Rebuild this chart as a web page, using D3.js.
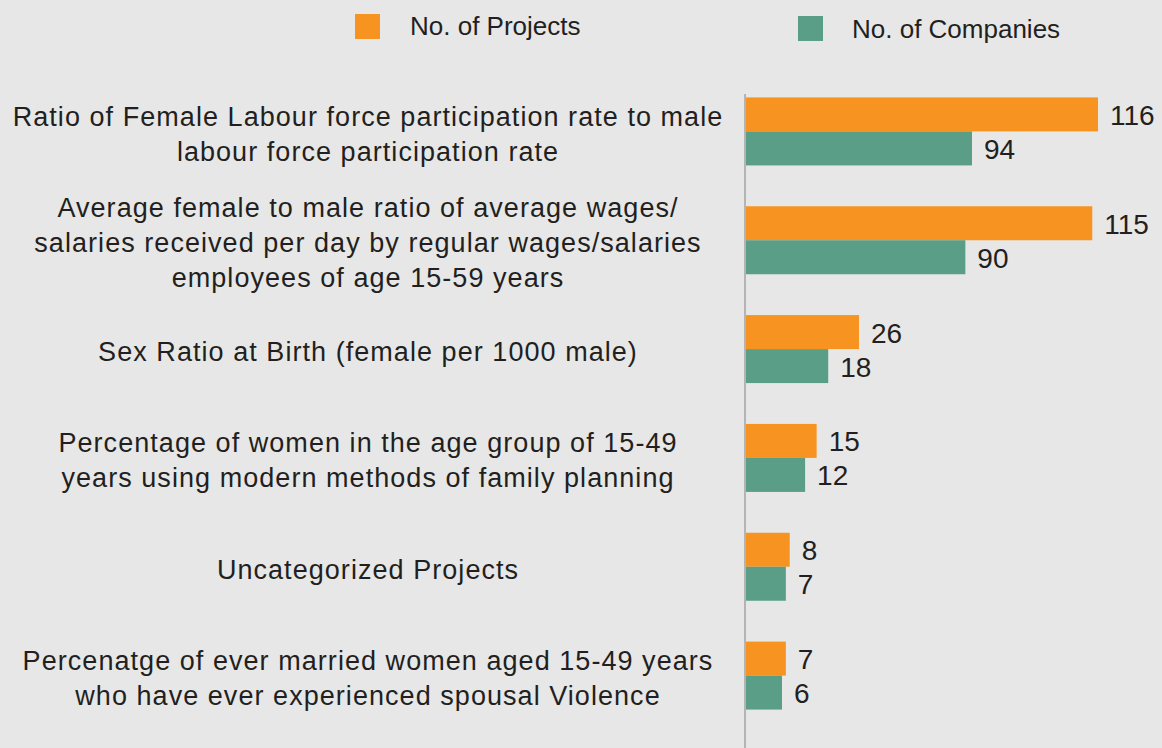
<!DOCTYPE html>
<html>
<head>
<meta charset="utf-8">
<script src="https://cdn.jsdelivr.net/npm/d3@7"></script>
<style>
    html, body { margin: 0; padding: 0; background: #e7e7e7; }
    svg { display: block; font-family: "Liberation Sans", Arial, sans-serif; }
</style>
</head>
<body>
<script>
    // chart values
    var categories = [
        ['Ratio of Female Labour force participation rate to male', 'labour force participation rate'],
        ['Average female to male ratio of average wages/', 'salaries received per day by regular wages/salaries', 'employees of age 15-59 years'],
        ['Sex Ratio at Birth (female per 1000 male)'],
        ['Percentage of women in the age group of 15-49', 'years using modern methods of family planning'],
        ['Uncategorized Projects'],
        ['Percenatge of ever married women aged 15-49 years', 'who have ever experienced spousal Violence']
    ];
    var projects = [116, 115, 26, 15, 8, 7];
    var companies = [94, 90, 18, 12, 7, 6];
    var seriesNames = ['No. of Projects', 'No. of Companies'];
    var colors = ['#f79421', '#5a9e87'];

    var width = 1162, height = 748;
    var axisX = 745;
    var barH = 34;

    var svg = d3.select('body').append('svg')
        .attr('width', width)
        .attr('height', height);

    svg.append('rect')
        .attr('width', width)
        .attr('height', height)
        .attr('fill', '#e7e7e7');

    var y = d3.scaleBand()
        .domain(d3.range(categories.length))
        .range([77, 730]);

    // the original bars are not drawn to one linear measure
    var x = d3.scaleLinear()
        .domain([0, 6, 26, 94, 116])
        .range([axisX + 1, axisX + 37, axisX + 114, axisX + 227, axisX + 353]);

    // legend
    var legend = svg.append('g');
    var legendPos = [[355, 14, 410, 35], [798, 16, 852, 38]];
    seriesNames.forEach(function (name, i) {
        legend.append('rect')
            .attr('x', legendPos[i][0])
            .attr('y', legendPos[i][1])
            .attr('width', 25)
            .attr('height', 25)
            .attr('fill', colors[i]);
        legend.append('text')
            .attr('x', legendPos[i][2])
            .attr('y', legendPos[i][3])
            .attr('font-size', 26)
            .attr('fill', '#231f20')
            .text(name);
    });

    // category labels
    var lineH = 35;
    var labels = svg.append('g');
    categories.forEach(function (lines, i) {
        var cy = y(i) + y.bandwidth() / 2;
        var t = labels.append('text')
            .attr('text-anchor', 'middle')
            .attr('font-size', 27)
            .attr('letter-spacing', 1.05)
            .attr('fill', '#231f20');
        lines.forEach(function (line, j) {
            t.append('tspan')
                .attr('x', 368)
                .attr('y', cy + (j - (lines.length - 1) / 2) * lineH + 12)
                .text(line);
        });
    });

    // bars
    var series = [projects, companies];
    series.forEach(function (vals, s) {
        var g = svg.append('g');
        g.selectAll('rect')
            .data(vals)
            .enter().append('rect')
            .attr('x', x(0))
            .attr('y', function (d, i) { return y(i) + y.bandwidth() / 2 - barH + s * barH; })
            .attr('width', function (d) { return x(d) - x(0); })
            .attr('height', barH)
            .attr('fill', colors[s]);

        g.selectAll('text')
            .data(vals)
            .enter().append('text')
            .attr('x', function (d) { return x(d) + 12; })
            .attr('y', function (d, i) { return y(i) + y.bandwidth() / 2 - barH / 2 + s * barH + 10.5; })
            .attr('font-size', 28)
            .attr('fill', '#231f20')
            .text(function (d) { return d; });
    });

    // axis line
    svg.append('line')
        .attr('x1', axisX)
        .attr('x2', axisX)
        .attr('y1', 94)
        .attr('y2', height)
        .attr('stroke', '#a3a3a3')
        .attr('stroke-width', 1.5);
</script>
</body>
</html>
